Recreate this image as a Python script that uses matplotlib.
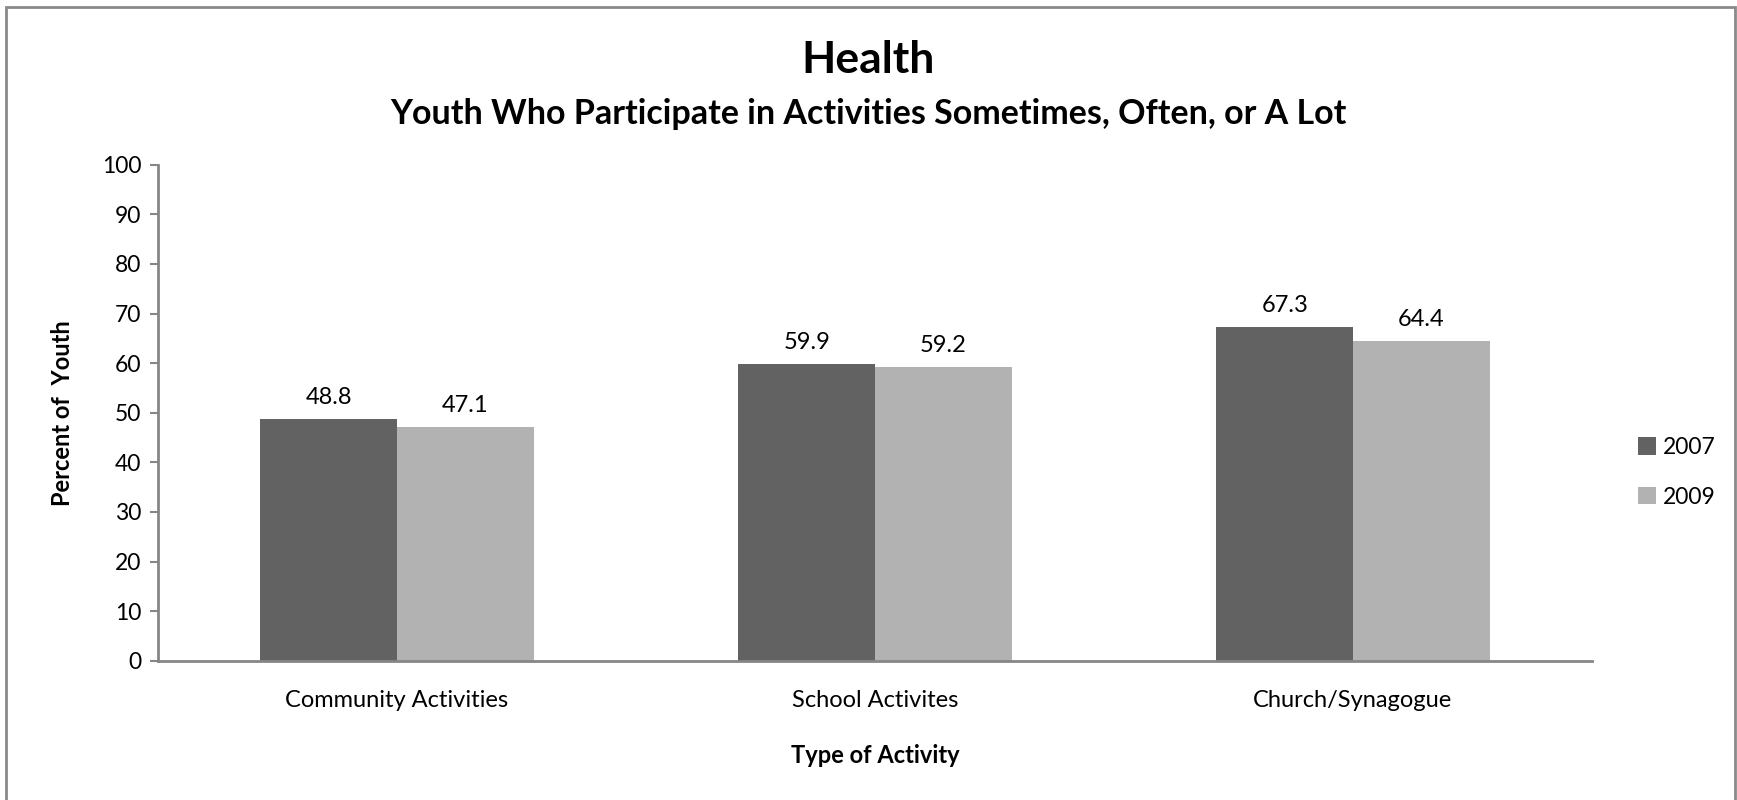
import matplotlib.pyplot as plt
from matplotlib.patches import Rectangle
import numpy as np

# daten
categories = ["Community Activities", "School Activites", "Church/Synagogue"]
years = ["2007", "2009"]
vals_2007 = [48.8, 59.9, 67.3]
vals_2009 = [47.1, 59.2, 64.4]
y_ticks = [0, 10, 20, 30, 40, 50, 60, 70, 80, 90, 100]

plt.rcParams['font.family'] = ['Lato', 'DejaVu Sans']

fig = plt.figure(figsize=(17.37, 8), dpi=100)
ax = fig.add_axes([0.091, 0.174, 0.8255, 0.62])

# rahmen um die ganze grafik
fig.patches.append(Rectangle((0.0035, -0.05), 0.9955, 1.041, transform=fig.transFigure,
                             fill=False, edgecolor="#8a8a8a", linewidth=2))

x = np.arange(len(categories))
w = 0.2857
b1 = ax.bar(x - w/2, vals_2007, w, color="#626262", label=years[0])
b2 = ax.bar(x + w/2, vals_2009, w, color="#b2b2b2", label=years[1])

for bars in (b1, b2):
    for r in bars:
        ax.annotate(f"{r.get_height():.1f}", (r.get_x() + r.get_width()/2, r.get_height()),
                    xytext=(0, 8), textcoords="offset points", ha="center", va="bottom",
                    fontsize=17)

ax.set_xlim(-0.5, 2.5)
ax.set_ylim(0, 100)
ax.set_yticks(y_ticks)
ax.set_xticks(x)
ax.set_xticklabels(categories, fontsize=17)
ax.tick_params(axis="y", labelsize=16.5, length=6, width=1.5, color="#868686", pad=6)
ax.tick_params(axis="x", length=0, pad=21)

for s in ["top", "right"]:
    ax.spines[s].set_visible(False)
for s in ["left", "bottom"]:
    ax.spines[s].set_color("#868686")
    ax.spines[s].set_linewidth(2)

ax.set_ylabel("Percent of  Youth", fontsize=17, fontweight="bold", labelpad=20)
ax.set_xlabel("Type of Activity", fontsize=17, fontweight="bold", labelpad=24)

fig.text(0.5, 0.925, "Health", ha="center", va="center", fontsize=32, fontweight="bold")
fig.text(0.5, 0.858, "Youth Who Participate in Activities Sometimes, Often, or A Lot",
         ha="center", va="center", fontsize=24.5, fontweight="bold")

ax.legend(loc="center left", bbox_to_anchor=(1.0, 0.38), frameon=False, fontsize=16.5,
          handlelength=0.8, handleheight=0.8, handletextpad=0.3, labelspacing=1.25,
          borderaxespad=1.6)

fig.savefig("out.png", dpi=100)
